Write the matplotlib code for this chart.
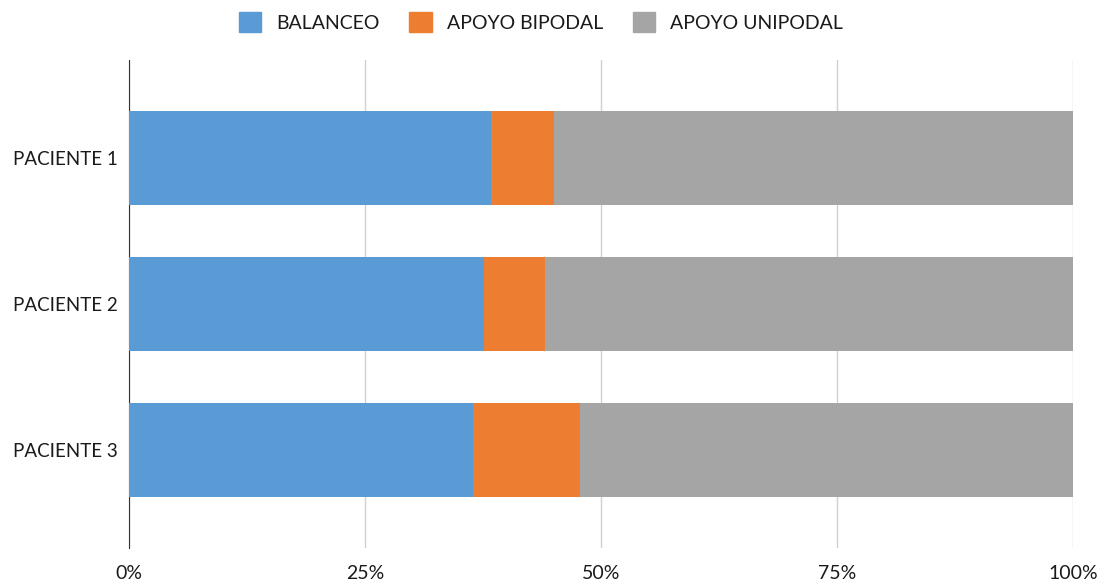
import matplotlib
matplotlib.use("Agg")
import matplotlib.pyplot as plt
from matplotlib.patches import Patch
from matplotlib.ticker import FuncFormatter

pacientes = ["PACIENTE 1", "PACIENTE 2", "PACIENTE 3"]
balanceo = [38.4, 37.6, 36.4]
apoyo_bipodal = [6.6, 6.5, 11.4]
apoyo_unipodal = [55.0, 55.9, 52.2]
series_names = ["BALANCEO", "APOYO BIPODAL", "APOYO UNIPODAL"]
colors = ["#5b9bd5", "#ed7d31", "#a5a5a5"]

plt.rcParams['font.family'] = ['Lato', 'DejaVu Sans']

fig = plt.figure(figsize=(11.07, 5.86), dpi=100)
ax = fig.add_axes([129/1107, 1-548/586, (1073-129)/1107, (548-60)/586])

ypos = list(range(len(pacientes)))
left = [0]*len(pacientes)
for vals, c in zip([balanceo, apoyo_bipodal, apoyo_unipodal], colors):
    ax.barh(ypos, vals, left=left, height=0.644, color=c, zorder=3)
    left = [l+v for l, v in zip(left, vals)]

ax.set_xlim(0, 100)
ax.set_ylim(2.67, -0.67)
ax.set_xticks([0, 25, 50, 75, 100])
ax.xaxis.set_major_formatter(FuncFormatter(lambda v, p: f"{int(v)}%"))
ax.set_yticks(ypos)
ax.set_yticklabels(pacientes)
ax.grid(axis='x', color='#d0d0d0', linewidth=1, zorder=0)
for s in ['top', 'right', 'bottom']:
    ax.spines[s].set_visible(False)
ax.spines['left'].set_color('#333333')
ax.tick_params(axis='both', length=0, colors='#1a1a1a')
ax.tick_params(axis='x', pad=12, labelsize=14)
ax.tick_params(axis='y', pad=8, labelsize=13.5)

handles = [Patch(facecolor=c, edgecolor=c) for c in colors]
leg = fig.legend(handles, series_names, loc='center', bbox_to_anchor=(541/1107, 1-22/586),
                 ncol=3, frameon=False, fontsize=14, handlelength=1.15, handleheight=1.15,
                 columnspacing=1.5, handletextpad=0.8)
for t in leg.get_texts():
    t.set_color('#1a1a1a')

fig.savefig("out.png", dpi=100)
